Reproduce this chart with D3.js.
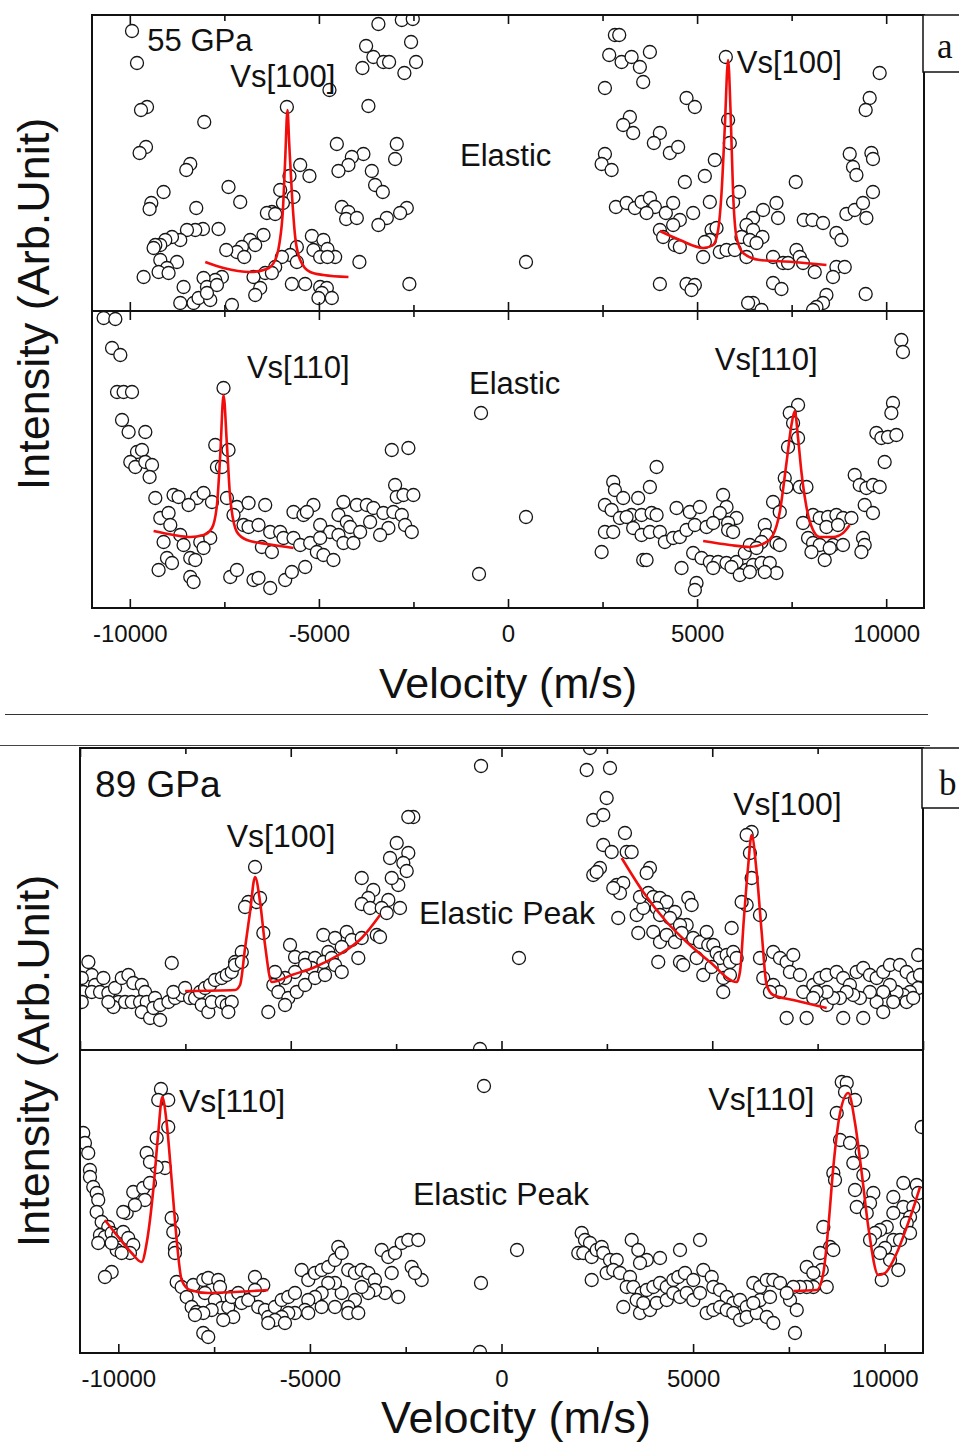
<!DOCTYPE html>
<html>
<head>
<meta charset="utf-8">
<script src="https://cdn.jsdelivr.net/npm/d3@7"></script>
<style>
  body { margin: 0; background: #fff; }
  svg { display: block; }
  text { font-family: "Liberation Sans", Arial, Helvetica, sans-serif; fill: #111; }
</style>
</head>
<body>
<svg id="fig" width="959" height="1446"></svg>
<script>
// ---------- axis values ----------
const majorTicks = [-10000, -5000, 0, 5000, 10000];
const minorTicks = [-7500, -2500, 2500, 7500];

// ---------- 55 GPa, Vs[100] trace: [velocity (m/s), intensity (arb.)] ----------
const p55_100 = [
  [-9942,280],[-9810,248],[-9545,204],[-9704,201],[-8032,189],[-9572,164],[-9741,158],[-8402,147],[-8507,141],[-9107,119],
  [-9432,108],[-9477,102],[-7390,124],[-7081,109],[-8243,103],[-5847,204],[-4721,221],[-3752,265],[-3559,254],[-3295,249],
  [-3144,249],[-3849,243],[-3427,287],[-2808,291],[-2518,292],[-2563,269],[-2431,249],[-2740,238],[-3691,205],[-4526,167],
  [-2941,167],[-2985,152],[-3823,157],[-4129,154],[-4219,146],[-4483,140],[-3601,140],[-3514,126],[-3310,119],[-5495,146],
  [-5250,135],[-5778,135],[-6024,121],[-5672,114],[-5952,108],[-6243,99],[-6375,98],[-6156,97],[-4394,104],[-4219,99],
  [-4280,92],[-3997,93],[-2676,103],[-2853,98],[-3205,93],[-3427,86],[-7654,82],[-8066,82],[-8269,81],[-8489,81],
  [-8666,71],[-8885,74],[-9062,71],[-9194,66],[-9326,66],[-9371,63],[-6465,76],[-6816,71],[-6684,66],[-7036,64],
  [-7168,59],[-6975,54],[-7450,61],[-5186,75],[-4880,71],[-4774,62],[-5144,61],[-4967,54],[-4571,54],[-4774,54],
  [-5583,64],[-5760,56],[-5979,54],[-5583,49],[-9194,51],[-8753,49],[-9017,43],[-9239,39],[-8975,38],[-9635,34],
  [-3929,49],[-6156,44],[-6420,38],[-6243,38],[-6729,34],[-7564,34],[-7741,31],[-8050,33],[-7960,24],[-7696,26],
  [-5715,27],[-5363,27],[-4967,24],[-4790,23],[-4922,18],[-5012,13],[-4658,13],[-6552,23],[-6684,16],[-8578,24],
  [-8666,8],[-8314,8],[-8182,13],[-7873,11],[-7960,18],[-7300,6],[-2608,27],[476,49],
  [2827,276],[2941,276],[2676,256],[3004,249],[3268,254],[3487,244],[3752,259],[3575,229],[2563,223],[5760,254],
  [9828,238],[4721,213],[4941,204],[9564,213],[9458,201],[3223,194],[3046,186],[3310,178],[4016,178],[3857,168],
  [4280,158],[4499,164],[5820,191],[5865,168],[2563,157],[2476,147],[2740,141],[5469,151],[9036,157],[9609,158],
  [9651,152],[9123,144],[9213,136],[7609,129],[4676,129],[5205,135],[9651,119],[2853,104],[3136,108],[3355,103],
  [3532,109],[3752,113],[3884,104],[3664,98],[4174,98],[4367,108],[5337,109],[5952,109],[6111,119],[4896,98],
  [4544,91],[4367,86],[6481,93],[6745,101],[7099,108],[7141,93],[7820,91],[8050,91],[8330,88],[8948,97],
  [9168,101],[9387,108],[9477,93],[4016,81],[4103,74],[4412,66],[4544,64],[5382,81],[5514,83],[5337,71],
  [5205,69],[6306,86],[6481,81],[6174,74],[6394,71],[6729,74],[6571,68],[8684,78],[8816,71],[5160,54],
  [5601,59],[5778,61],[5997,61],[6306,54],[7009,54],[7273,48],[7405,48],[7627,61],[7715,54],[7802,48],
  [8111,39],[8684,44],[8904,44],[8594,34],[4016,27],[4721,27],[4941,26],[4853,21],[7009,28],[7231,22],
  [8420,16],[8330,8],[8156,4],[8066,1],[6481,8],[6349,8],[6703,1],[9458,17]
];
const fit55_100L = [[-8005,49],[-7522,43],[-6816,39],[-6375,42],[-6156,51],[-6042,68],[-5952,101],[-5892,151],[-5831,201],[-5786,168],[-5715,118],[-5627,74],[-5495,51],[-5231,39],[-4880,36],[-4219,34]];
const fit55_100R = [[4016,80],[4544,71],[5160,63],[5424,66],[5556,81],[5646,118],[5733,184],[5820,251],[5884,201],[5952,118],[6042,74],[6217,58],[6658,51],[7538,49],[8420,46]];

// ---------- 55 GPa, Vs[110] trace ----------
const p55_110 = [
  [-10692,290],[-10383,289],[-10470,260],[-10251,253],[-10338,216],[-10164,216],[-9942,216],[-7522,220],[-10206,188],[-10032,176],
  [-9590,176],[-9810,156],[-9678,158],[-9987,146],[-9855,141],[-9590,146],[-9413,143],[-9477,131],[-7741,163],[-7390,158],
  [-7696,141],[-7564,141],[-3073,158],[-2634,160],[-2985,123],[-2941,111],[-2766,113],[-2502,113],[-9326,110],[-8843,113],
  [-8711,111],[-8225,110],[-8050,115],[-8446,103],[-7828,106],[-7432,110],[-7168,101],[-6861,105],[-6420,103],[-7258,93],
  [-9194,90],[-8975,95],[-8930,83],[-6993,83],[-6861,81],[-6597,83],[-6288,76],[-6024,76],[-5672,96],[-5408,93],
  [-5144,103],[-5318,96],[-4351,106],[-3997,103],[-3733,103],[-3559,100],[-3295,95],[-3030,96],[-2808,93],[-4483,93],
  [-4262,86],[-4967,83],[-4703,76],[-4483,73],[-4174,81],[-3910,76],[-3646,86],[-2721,83],[-2544,76],[-3162,80],
  [-3382,73],[-9107,66],[-8666,73],[-8578,63],[-8137,66],[-7873,70],[-6507,61],[-6243,56],[-5936,70],[-5672,70],
  [-5495,63],[-5231,65],[-4967,70],[-5054,56],[-4880,53],[-4616,48],[-4351,65],[-4087,65],[-9017,50],[-8885,45],
  [-8402,50],[-8269,48],[-8050,60],[-9239,38],[-8402,31],[-8314,26],[-7345,31],[-7168,38],[-6729,28],[-6597,30],
  [-6288,20],[-5892,28],[-5715,36],[-5363,41],[-713,195],[476,91],[-766,34],
  [10401,268],[10444,256],[7670,203],[7450,195],[7538,185],[10180,205],[10137,195],[9741,175],[9873,170],[10048,171],
  [10269,173],[9960,146],[7405,161],[7670,170],[3929,141],[3752,121],[2782,126],[2827,118],[7318,130],[7363,121],
  [7715,121],[7892,121],[9168,133],[9300,123],[9477,120],[9651,123],[9828,121],[7009,106],[7186,96],[9432,103],
  [9651,95],[2563,103],[2740,98],[3046,110],[3442,110],[3268,93],[3532,93],[2959,90],[3136,91],[3797,95],
  [3929,93],[4457,100],[4808,96],[5073,101],[5688,113],[5778,101],[5601,95],[6042,90],[5820,85],[8066,93],
  [8243,90],[8462,91],[8684,93],[8859,90],[9081,90],[8420,81],[8726,83],[2563,76],[2782,76],[3310,80],
  [3532,73],[3752,76],[4016,76],[4148,66],[4367,70],[4544,71],[4721,78],[4941,83],[5250,81],[5424,85],
  [5820,78],[5952,76],[6790,83],[6835,73],[6703,66],[7099,65],[7186,63],[7802,85],[7934,70],[8066,65],
  [8243,63],[8594,63],[8859,63],[9387,70],[9432,63],[2476,56],[3575,48],[3664,48],[4896,55],[5117,50],
  [5337,46],[5556,46],[5778,45],[6042,46],[6262,55],[6394,63],[6571,60],[4589,40],[5424,40],[5910,41],
  [6306,38],[6481,43],[6703,45],[6922,45],[7099,35],[6129,33],[6394,36],[6790,36],[8024,56],[8375,48],
  [8507,60],[9345,56],[4985,25],[4941,18]
];
const fit55_110L = [[-9371,77],[-8843,73],[-8402,71],[-8050,73],[-7828,80],[-7696,103],[-7609,153],[-7522,213],[-7432,163],[-7345,110],[-7168,76],[-6904,68],[-6375,64],[-5672,60]];
const fit55_110R = [[5160,67],[5865,63],[6394,61],[6790,65],[7009,73],[7186,96],[7363,145],[7495,183],[7583,197],[7670,170],[7759,136],[7892,101],[8066,78],[8243,71],[8594,71],[8859,75],[9036,83]];

// ---------- 89 GPa, Vs[100] trace ----------
const p89_100 = [
  [-2092,233],[-2211,233],[-2486,207],[-2211,197],[-2645,192],[-2329,187],[-2249,179],[-2448,165],[-2604,172],[-2685,150],
  [-2408,142],[-3316,172],[-3041,160],[-3160,152],[-3316,146],[-3119,142],[-2842,142],[-2723,137],[-2960,115],[-2882,113],
  [-5847,183],[-6006,148],[-5807,148],[-5728,152],[-6084,143],[-5650,117],[-6162,98],[-6321,88],[-4227,115],[-3949,112],
  [-3672,118],[-3553,110],[-3316,112],[-3790,103],[-3397,92],[-4108,98],[-5017,105],[-4898,93],[-4661,92],[-4424,92],
  [-4227,88],[-4028,92],[-3949,85],[-3790,78],[-4502,82],[-4661,85],[-4898,78],[-5135,72],[-5294,72],[-5373,78],
  [-5413,65],[-5294,58],[-5057,52],[-4858,58],[-4661,65],[-4424,72],[-4187,75],[-5532,38],[-5135,45],[-7823,87],
  [-9801,88],[-9720,75],[-9958,72],[-9642,65],[-9445,72],[-9920,58],[-9958,48],[-9720,58],[-9524,58],[-9327,57],
  [-9168,62],[-9009,72],[-8852,75],[-8734,67],[-8534,65],[-8456,58],[-9089,48],[-9208,43],[-9327,48],[-8931,48],
  [-8772,48],[-8575,48],[-8416,48],[-8219,52],[-8534,38],[-8338,32],[-8100,30],[-8259,42],[-8100,45],[-7903,48],
  [-7745,52],[-7586,55],[-7785,58],[-7507,62],[-7389,52],[-7270,52],[-7152,58],[-7033,62],[-6914,65],[-6796,70],
  [-6637,72],[-6518,75],[-6400,78],[-6321,85],[-6162,88],[-7111,45],[-6955,38],[-6874,48],[-6637,48],[-6518,45],
  [-6400,48],[-6480,38],[-486,284],[415,92],[-510,1],
  [2099,302],[2021,280],[2574,282],[2495,252],[2177,230],[2415,235],[2929,217],[2415,205],[2614,198],[2970,198],
  [3088,198],[2336,182],[2177,175],[2258,178],[2733,165],[2889,167],[2811,157],[2652,162],[3522,182],[3444,177],
  [2770,132],[3207,135],[3363,142],[3285,153],[3482,157],[3601,153],[3760,152],[3918,148],[3681,142],[3760,135],
  [4115,138],[3997,132],[4431,152],[4512,145],[4393,125],[4234,125],[3245,117],[3601,118],[3760,108],[3918,115],
  [4115,108],[4274,117],[4549,112],[4708,108],[4867,118],[4905,105],[5024,105],[5104,97],[5183,92],[5342,95],
  [5420,88],[5498,98],[5579,92],[5460,122],[3719,88],[4234,88],[4312,85],[4630,92],[4787,75],[4986,83],
  [5261,72],[5420,75],[5261,58],[5935,218],[5816,215],[5894,197],[5935,172],[5816,145],[6132,135],[5697,148],
  [6132,92],[6210,72],[6447,98],[6606,92],[6765,88],[6922,95],[6843,78],[7080,75],[6447,65],[6606,58],
  [6369,58],[6765,32],[7239,32],[7714,45],[8107,32],[8582,32],
  [7159,58],[7396,65],[7555,72],[7714,75],[7951,78],[8107,72],[8266,65],[8425,78],[8582,82],[8741,75],
  [8900,72],[9056,78],[9215,85],[9452,85],[9611,78],[9768,72],[9886,95],[9927,75],[9886,62],[9690,58],
  [9531,55],[9374,58],[9215,65],[9056,58],[8900,48],[8741,58],[8504,52],[8345,55],[8188,58],[8029,52],
  [7870,52],[7714,58],[7477,58],[7396,52],[9056,38],[9294,48],[9611,48],[9768,52]
];
const fit89_100L = [[-7507,59],[-6321,60],[-6203,65],[-6084,102],[-5966,138],[-5847,173],[-5728,148],[-5610,105],[-5451,68],[-4976,75],[-4424,83],[-3871,95],[-3316,112],[-2882,135]];
const fit89_100R = [[2851,192],[3363,158],[3918,128],[4393,108],[4946,88],[5579,68],[5657,78],[5752,132],[5854,185],[5935,215],[6053,178],[6172,118],[6291,65],[6447,55],[6922,50],[7714,42]];

// ---------- 89 GPa, Vs[110] trace ----------
const p89_110 = [
  [-8887,264],[-8958,253],[-8697,253],[-8697,226],[-8999,215],[-8783,185],[-8999,186],[-9260,200],[-9174,191],[-9480,160],
  [-9610,161],[-9349,165],[-9305,153],[-9174,170],[-9782,140],[-9871,141],[-9566,148],[-10915,220],[-10871,210],[-10785,200],
  [-10740,183],[-10740,176],[-10654,166],[-10565,160],[-10524,153],[-10565,141],[-10435,131],[-10263,126],[-10479,118],[-10349,116],
  [-10174,120],[-10002,118],[-9871,121],[-9741,115],[-9610,108],[-9696,100],[-10043,103],[-10174,110],[-9913,100],[-10524,110],
  [-10174,81],[-10349,76],[-8608,135],[-8566,121],[-8522,105],[-8522,100],[-8477,71],[-8347,66],[-8216,56],[-8086,46],
  [-7955,41],[-8044,68],[-7783,73],[-7653,75],[-7392,73],[-7347,66],[-7739,60],[-7478,53],[-7303,45],[-7131,46],
  [-7000,36],[-7261,33],[-7564,43],[-7783,40],[-8000,38],[-7042,56],[-6870,60],[-6781,50],[-6609,53],[-6434,76],
  [-6217,68],[-6434,63],[-6348,46],[-6173,43],[-6087,36],[-7783,20],[-7653,16],[-5912,46],[-5737,53],[-5565,56],
  [-5390,60],[-5215,83],[-5043,73],[-4868,80],[-4693,83],[-4521,86],[-4346,93],[-4260,106],[-4171,100],[-3999,83],
  [-3824,80],[-3649,83],[-3477,80],[-3302,73],[-3127,103],[-2955,96],[-2780,100],[-2605,110],[-2433,113],[-2172,113],
  [-2344,86],[-2083,73],[-2258,80],[-2866,80],[-3041,60],[-2694,56],[-3302,63],[-3477,60],[-3649,66],[-3824,53],
  [-3999,46],[-4171,60],[-4346,70],[-4521,70],[-4693,60],[-4868,56],[-5043,53],[-5129,43],[-5390,40],[-5565,40],
  [-5737,36],[-5912,33],[-6087,30],[-5651,30],[-5043,40],[-4693,46],[-4346,46],[-3999,40],[-3738,40],
  [-457,267],[405,103],[-535,70],[-561,1],
  [8879,271],[9010,270],[8965,261],[9226,253],[8749,240],[8835,213],[9096,210],[9401,201],[9182,190],[9443,178],
  [8660,180],[8704,173],[9226,163],[9271,146],[9704,160],[9618,150],[9532,140],[8399,126],[8574,106],[8313,100],
  [8660,103],[8357,83],[7966,86],[8138,80],[8488,66],[8138,66],[7966,66],[7791,66],[7616,66],[7530,53],
  [7705,43],[7660,20],[10967,226],[10487,170],[10837,168],[10878,160],[10226,156],[10487,146],[10748,146],[10662,136],
  [10576,130],[10226,140],[10054,126],[9879,123],[9748,120],[9618,113],[10226,113],[10401,113],[10662,120],[10009,105],
  [10140,93],[10356,83],[9923,73],[9879,100],
  [2093,120],[2179,113],[2310,110],[2004,100],[2135,100],[2354,96],[2485,103],[2615,106],[2657,100],[2832,93],
  [3007,93],[2354,73],[2746,80],[2918,83],[3093,80],[3354,76],[3398,113],[3570,103],[3790,93],[4137,95],
  [3615,90],[3268,66],[3440,66],[3659,60],[3790,63],[3962,66],[4137,70],[4312,66],[4484,73],[4659,103],
  [4614,76],[4789,80],[5006,73],[5181,113],[5267,83],[5486,76],[5528,66],[5703,63],[5878,56],[6050,50],
  [6225,53],[6400,46],[6572,70],[6747,66],[6922,73],[7094,73],[7269,70],[7444,60],[3179,46],[3615,40],
  [3876,43],[4051,50],[4312,53],[4484,60],[4659,56],[4834,60],[5006,53],[5181,60],[5356,40],[5528,43],
  [5703,46],[5878,43],[6050,40],[6225,33],[6400,36],[6661,40],[6922,36],[7094,30],[6747,53],[7008,56],
  [6572,50],[3529,53],[3701,50]
];
const fit89_110L = [[-10349,133],[-10002,116],[-9652,100],[-9391,91],[-9260,110],[-9088,163],[-8958,220],[-8853,256],[-8738,230],[-8608,173],[-8477,113],[-8347,73],[-8130,63],[-7653,60],[-6956,61],[-6087,63]];
const fit89_110R = [[7616,62],[8227,63],[8399,80],[8529,126],[8660,186],[8835,240],[9051,260],[9226,230],[9401,180],[9573,126],[9834,78],[10009,80],[10315,100],[10576,126],[10792,150],[10923,166]];

// ---------- annotations: [text, velocity, intensity] ----------
const notes55_100 = [["55 GPa", -9538, 260], ["Vs[100]", -7345, 224], ["Elastic", -1268, 145], ["Vs[100]", 6050, 238]];
const notes55_110 = [["Vs[110]", -6904, 230], ["Elastic", -1030, 214], ["Vs[110]", 5469, 238]];
const notes89_100 = [["89 GPa", -9642, 253], ["Vs[100]", -6518, 203], ["Elastic Peak", -1957, 126], ["Vs[100]", 5498, 235]];
const notes89_110 = [["Vs[110]", -8417, 241], ["Elastic Peak", -2310, 148], ["Vs[110]", 5397, 243]];

// ---------- layout ----------
const svg = d3.select("#fig");

const panels = [
  { id: "a1", left: 92, right: 924, top: 15,  bottom: 311, xDom: [-11000, 11000], yDom: [0, 296],
    pts: p55_100, fits: [fit55_100L, fit55_100R], notes: notes55_100, fs: 31, topTicks: true, labels: false },
  { id: "a2", left: 92, right: 924, top: 311, bottom: 608, xDom: [-11000, 11000], yDom: [0, 297],
    pts: p55_110, fits: [fit55_110L, fit55_110R], notes: notes55_110, fs: 31, topTicks: true, labels: true },
  { id: "b1", left: 80, right: 923, top: 748, bottom: 1050, xDom: [-10000, 10000], yDom: [0, 302],
    pts: p89_100, fits: [fit89_100L, fit89_100R], notes: notes89_100, fs: 32, topTicks: true, labels: false },
  { id: "b2", left: 80, right: 923, top: 1050, bottom: 1353, xDom: [-11000, 11000], yDom: [0, 303],
    pts: p89_110, fits: [fit89_110L, fit89_110R], notes: notes89_110, fs: 32, topTicks: false, labels: true }
];

const defs = svg.append("defs");

panels.forEach(p => {
  const x = d3.scaleLinear().domain(p.xDom).range([p.left, p.right]);
  const y = d3.scaleLinear().domain(p.yDom).range([p.bottom, p.top]);

  defs.append("clipPath").attr("id", "clip-" + p.id)
    .append("rect").attr("x", p.left).attr("y", p.top)
    .attr("width", p.right - p.left).attr("height", p.bottom - p.top);

  const g = svg.append("g").attr("clip-path", "url(#clip-" + p.id + ")");

  // measured points
  g.selectAll("circle").data(p.pts).join("circle")
    .attr("cx", d => x(d[0])).attr("cy", d => y(d[1]))
    .attr("r", 6.5).attr("fill", "#fff")
    .attr("stroke", "#161616").attr("stroke-width", 1.3);

  // fitted curves
  const line = d3.line().x(d => x(d[0])).y(d => y(d[1])).curve(d3.curveMonotoneX);
  g.selectAll("path.fit").data(p.fits).join("path").attr("class", "fit")
    .attr("d", line).attr("fill", "none")
    .attr("stroke", "#f20d0d").attr("stroke-width", 2.6).attr("stroke-linejoin", "round");

  // inward ticks
  const bottomMajor = d3.axisBottom(x).tickValues(majorTicks).tickSizeInner(-9).tickSizeOuter(0)
    .tickPadding(17).tickFormat(d => p.labels ? String(d) : "");
  const bottomMinor = d3.axisBottom(x).tickValues(minorTicks).tickSizeInner(-6).tickSizeOuter(0).tickFormat("");
  [bottomMajor, bottomMinor].forEach(ax => {
    const a = svg.append("g").attr("transform", `translate(0,${p.bottom})`).call(ax);
    a.select(".domain").remove();
    a.selectAll("line").attr("stroke", "#111").attr("stroke-width", 1.6);
    a.selectAll("text").attr("font-size", 24).attr("fill", "#111")
      .attr("font-family", "'Liberation Sans', Arial, sans-serif");
  });
  if (p.topTicks) {
    const topMajor = d3.axisTop(x).tickValues(majorTicks).tickSizeInner(-9).tickSizeOuter(0).tickFormat("");
    const topMinor = d3.axisTop(x).tickValues(minorTicks).tickSizeInner(-6).tickSizeOuter(0).tickFormat("");
    [topMajor, topMinor].forEach(ax => {
      const a = svg.append("g").attr("transform", `translate(0,${p.top})`).call(ax);
      a.select(".domain").remove();
      a.selectAll("line").attr("stroke", "#111").attr("stroke-width", 1.6);
    });
  }

  // annotations
  svg.append("g").selectAll("text").data(p.notes).join("text")
    .attr("x", d => x(d[1])).attr("y", d => y(d[2]))
    .attr("font-size", d => /GPa/.test(d[0]) && p.id[0] === "b" ? 37 : p.fs)
    .text(d => d[0]);

  // frame
  svg.append("rect").attr("x", p.left).attr("y", p.top)
    .attr("width", p.right - p.left).attr("height", p.bottom - p.top)
    .attr("fill", "none").attr("stroke", "#111").attr("stroke-width", 2);
});

// axis titles
[[304, 698, 508, 43], [1061, 1433, 516, 45]].forEach(([cy, by, cx, fs]) => {
  svg.append("text").attr("transform", `translate(49,${cy}) rotate(-90)`)
    .attr("text-anchor", "middle").attr("font-size", 45).text("Intensity (Arb.Unit)");
  svg.append("text").attr("x", cx).attr("y", by)
    .attr("text-anchor", "middle").attr("font-size", fs).text("Velocity (m/s)");
});

// figure separators
svg.append("line").attr("x1", 5).attr("x2", 928).attr("y1", 714.5).attr("y2", 714.5)
  .attr("stroke", "#333").attr("stroke-width", 1.2);
svg.append("line").attr("x1", 0).attr("x2", 930).attr("y1", 745.5).attr("y2", 745.5)
  .attr("stroke", "#444").attr("stroke-width", 1.2);

// figure letters
[["a", 923, 15, 57, 937, 58, 35], ["b", 922, 748, 60, 939, 795, 35]].forEach(([t, bx, by, bh, tx, ty, fs]) => {
  svg.append("rect").attr("x", bx).attr("y", by).attr("width", 48).attr("height", bh)
    .attr("fill", "#fff").attr("stroke", "#111").attr("stroke-width", 1.5);
  svg.append("text").attr("x", tx).attr("y", ty).attr("font-size", fs)
    .style("font-family", "'Liberation Serif', 'Times New Roman', serif").text(t);
});
</script>
</body>
</html>
